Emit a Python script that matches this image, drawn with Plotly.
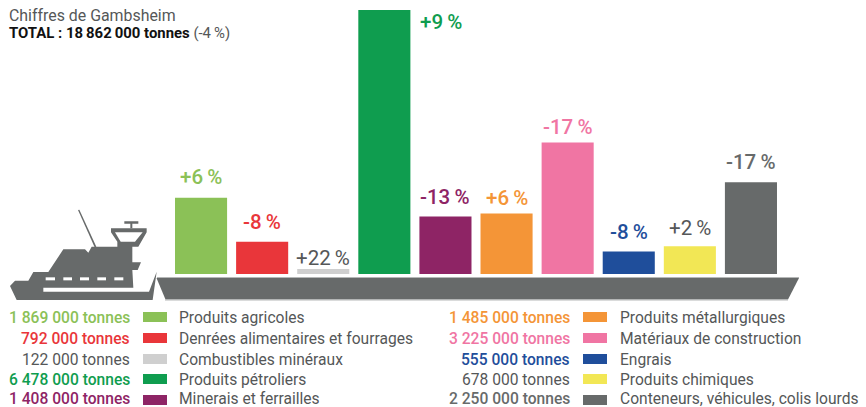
import plotly.graph_objects as go

W, H = 866, 407
categories = ["Produits agricoles", "Denrées alimentaires et fourrages", "Combustibles minéraux",
              "Produits pétroliers", "Minerais et ferrailles", "Produits métallurgiques",
              "Matériaux de construction", "Engrais", "Produits chimiques",
              "Conteneurs, véhicules, colis lourds"]
tonnes = [1869000, 792000, 122000, 6478000, 1408000, 1485000, 3225000, 555000, 678000, 2250000]
tonnes_labels = ["1 869 000", "792 000", "122 000", "6 478 000", "1 408 000",
                 "1 485 000", "3 225 000", "555 000", "678 000", "2 250 000"]
changes = ["+6\u2009%", "-8\u2009%", "+22\u2009%", "+9\u2009%", "-13\u2009%",
           "+6\u2009%", "-17\u2009%", "-8\u2009%", "+2\u2009%", "-17\u2009%"]
colors = ["#8BC157", "#E9363A", "#CFCFCF", "#0F9D4F", "#8E2465",
          "#F49537", "#F075A3", "#1F4E9B", "#F2E755", "#676A6A"]
text_colors = ["#8BC157", "#E9363A", "#555758", "#0F9D4F", "#8E2465",
               "#F49537", "#F075A3", "#1F4E9B", "#555758", "#676A6A"]
FONT = "Roboto"
SHIP = "#676A6A"
BODY = 15.6
PCT = 20.5

px = lambda x: x / W
py = lambda y: 1 - y / H

fig = go.Figure(go.Bar(x=categories, y=tonnes, marker_color=colors, marker_line_width=0,
                       hoverinfo="skip"))

ann = []
def T(x, y, s, color, size, anchor="left", weight=400):
    ann.append(dict(x=px(x), y=py(y), xref="paper", yref="paper", text=s, showarrow=False,
                    xanchor=anchor, yanchor="middle", align=anchor,
                    font=dict(family=FONT, size=size, color=color, weight=weight),
                    borderpad=0, borderwidth=0))

T(9, 15, "Chiffres de Gambsheim", "#555758", 15.9)
T(9, 33, "<b style='color:#111'>TOTAL : 18\u2009862\u2009000 tonnes</b> (-4\u2009%)", "#555758", 14.9)

# change labels, anchored to the bars through the axes
lifts = [21, 20, 11, 0, 20, 15, 16, 19, 18, 20]
for i, c in enumerate(categories):
    if i == 3:
        ann.append(dict(x=c, y=tonnes[i], xref="x", yref="y", text=changes[i], showarrow=False,
                        xanchor="left", yanchor="middle", xshift=34, yshift=-12,
                        font=dict(family=FONT, size=PCT, color=text_colors[i], weight=500)))
    else:
        ann.append(dict(x=c, y=tonnes[i], xref="x", yref="y", text=changes[i], showarrow=False,
                        xanchor="center", yanchor="middle", yshift=lifts[i],
                        font=dict(family=FONT, size=PCT, color=text_colors[i],
                                  weight=400 if text_colors[i] == "#555758" else 500)))

shapes = []
def poly(points, fill, zoom=True):
    if zoom:
        points = [(a / 3, 200 + b / 3) for a, b in points]
    d = "M" + " L".join(f"{px(a):.5f},{py(b):.5f}" for a, b in points) + " Z"
    shapes.append(dict(type="path", path=d, xref="paper", yref="paper", fillcolor=fill,
                       line_width=0, layer="above"))

# legend
rows = [317, 338, 359, 379, 400]
text_rows = [318, 339, 360, 380, 398.5]
for i, c in enumerate(categories):
    col = i // 5
    r = rows[i % 5]
    tr = text_rows[i % 5]
    xr, xs, xl = (130, 143, 179) if col == 0 else (570, 583, 620)
    strong = text_colors[i] != "#555758"
    T(xr, tr, f"{tonnes_labels[i]} tonnes", text_colors[i], BODY, "right", 500 if strong else 400)
    shapes.append(dict(type="rect", x0=px(xs), x1=px(xs + 24), y0=py(r - 5), y1=py(r + 5),
                       xref="paper", yref="paper", fillcolor=colors[i], line_width=0))
    T(xl, tr, c, "#555758", BODY)

# barge
poly([(156.5, 278), (799, 278), (788, 299.5), (165.5, 299.5)], SHIP, zoom=False)
for y, x0, x1 in [(277.5, 157, 799), (300, 165, 788)]:
    shapes.append(dict(type="line", x0=px(x0), x1=px(x1), y0=py(y), y1=py(y), xref="paper",
                       yref="paper", line=dict(color="#B5B7B7", width=1)))

# ship
poly([(30, 258), (45, 242), (85, 242), (100, 216), (145, 216), (190, 148), (255, 148), (265, 158),
      (275, 140), (352, 140), (352, 125), (333, 97), (333, 85), (440, 85), (440, 97), (415, 140),
      (397, 140), (397, 187), (423, 187), (413, 210), (397, 210), (400, 263), (130, 263), (130, 275),
      (447, 275), (470, 215), (458, 300), (50, 300)], SHIP)
poly([(345, 97), (428, 97), (405, 125), (362, 125)], "#FFFFFF")
poly([(234, 30), (238, 29), (289, 140), (284, 142)], SHIP)
poly([(373, 64), (415, 64), (415, 71), (397, 71), (397, 85), (391, 85), (391, 71), (373, 71)], SHIP)
for a, b in [(137, 165), (190, 216), (240, 267), (292, 318), (343, 370)]:
    poly([(a, 232), (b, 232), (b, 241), (a, 241)], "#FFFFFF")

fig.update_layout(
    width=W, height=H, autosize=False, margin=dict(l=0, r=0, t=0, b=0),
    paper_bgcolor="white", plot_bgcolor="white", showlegend=False, bargap=9 / 61,
    xaxis=dict(domain=[170.5 / W, 781.5 / W], visible=False, type="category"),
    yaxis=dict(domain=[py(274), py(10)], range=[0, max(tonnes)], visible=False),
    annotations=ann, shapes=shapes,
)
fig.write_html("out.html", config={"displayModeBar": False},
               post_script="document.body.style.margin='0';document.documentElement.style.overflow='hidden';")
